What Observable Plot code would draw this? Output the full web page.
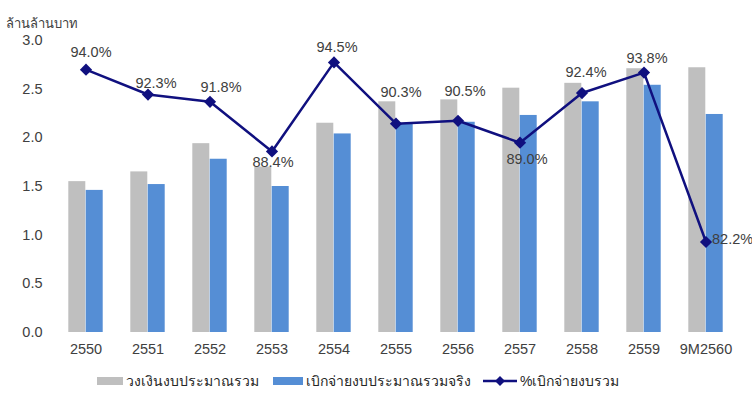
<!DOCTYPE html>
<html>
<head>
<meta charset="utf-8">
<script src="https://cdn.jsdelivr.net/npm/d3@7"></script>
<script src="https://cdn.jsdelivr.net/npm/@observablehq/plot@0.6"></script>
<style>
  html, body { margin: 0; padding: 0; background: #fff; }
  #wrap { width: 752px; height: 394px; position: relative; overflow: hidden; font-family: "Liberation Sans", Arial, sans-serif; }
  #legend { position: absolute; left: 0; top: 362px; width: 752px; height: 32px; font-size: 14px; color: #262626; }
  .sw { position: absolute; }
  .lt { position: absolute; top: 10px; line-height: 18px; white-space: nowrap; }
</style>
</head>
<body>
<div id="wrap"><div id="chart"></div><div id="legend"></div></div>
<script>
const categories = ["2550","2551","2552","2553","2554","2555","2556","2557","2558","2559","9M2560"];
const budgetTotal = [1.55, 1.65, 1.94, 1.70, 2.15, 2.37, 2.39, 2.51, 2.56, 2.71, 2.72];
const actualSpend = [1.46, 1.52, 1.78, 1.50, 2.04, 2.14, 2.16, 2.23, 2.37, 2.54, 2.24];
const pctDisbursed = [94.0, 92.3, 91.8, 88.4, 94.5, 90.3, 90.5, 89.0, 92.4, 93.8, 82.2];
const yTicks = [0, 0.5, 1.0, 1.5, 2.0, 2.5, 3.0];
const pctAxisRange = [76, 96]; // hidden secondary axis (%)
const yUnit = "ล้านล้านบาท";
const seriesNames = ["วงเงินงบประมาณรวม", "เบิกจ่ายงบประมาณรวมจริง", "%เบิกจ่ายงบรวม"];

const colGray = "#BFBFBF", colBlue = "#558ED5", colLine = "#10107F", colText = "#404040";

const rows = categories.map((c, i) => ({
  cat: c,
  budget: budgetTotal[i],
  actual: actualSpend[i],
  pct: pctDisbursed[i],
  pctY: (pctDisbursed[i] - pctAxisRange[0]) / (pctAxisRange[1] - pctAxisRange[0]) * 3
}));

// label placement (dx, dy, anchor) per point
const labelPlacement = [
  [5, -17, "middle"], [8, -11, "middle"], [11, -14, "middle"], [1, 11, "middle"],
  [3, -15, "middle"], [5, -31, "middle"], [7, -29, "middle"], [7, 17, "middle"],
  [4, -21, "middle"], [3, -14, "middle"], [6, -3, "start"]
];

const labelMarks = rows.map((r, i) => Plot.text([r], {
  x: "cat", y: "pctY", text: d => d.pct.toFixed(1) + "%",
  dx: labelPlacement[i][0], dy: labelPlacement[i][1], textAnchor: labelPlacement[i][2],
  fill: colText, fontSize: 14.5
}));

const chart = Plot.plot({
  width: 752, height: 362,
  marginLeft: 53, marginRight: 14, marginTop: 40, marginBottom: 30,
  style: { fontFamily: "'Liberation Sans', Arial, sans-serif", fontSize: "14.5px", color: colText, background: "#fff", overflow: "visible" },
  x: { domain: categories, paddingInner: 0.72, paddingOuter: 0.36, label: null, tickSize: 0, tickPadding: 11 },
  y: { domain: [0, 3], ticks: yTicks, tickFormat: d => d.toFixed(1), label: null, tickSize: 0, tickPadding: 11 },
  marks: [
    Plot.barY(rows, { x: "cat", y: "budget", fill: colGray, dx: -8.7 }),
    Plot.barY(rows, { x: "cat", y: "actual", fill: colBlue, dx: 8.7 }),
    Plot.line(rows, { x: "cat", y: "pctY", stroke: colLine, strokeWidth: 2.5 }),
    Plot.dot(rows, { x: "cat", y: "pctY", symbol: "diamond2", r: 5.5, fill: colLine, stroke: "none" }),
    ...labelMarks,
    Plot.text([yUnit], { frameAnchor: "top-left", text: d => d, dx: -48, dy: -22, textAnchor: "start", fontSize: 13, fill: colText })
  ]
});
document.getElementById("chart").appendChild(chart);

// legend
const lg = document.getElementById("legend");
const items = [
  { sw: `<div class="sw" style="left:97px;top:15px;width:26px;height:8px;background:${colGray}"></div>`, x: 126 },
  { sw: `<div class="sw" style="left:273px;top:15px;width:30px;height:8px;background:${colBlue}"></div>`, x: 306 },
  { sw: `<svg class="sw" style="left:483px;top:12px" width="34" height="14"><line x1="0" y1="7" x2="34" y2="7" stroke="${colLine}" stroke-width="2.5"/><path d="M17 2 L22 7 L17 12 L12 7 Z" fill="${colLine}"/></svg>`, x: 520 }
];
items.forEach((it, i) => {
  lg.insertAdjacentHTML("beforeend", it.sw + `<div class="lt" style="left:${it.x}px">${seriesNames[i]}</div>`);
});
</script>
</body>
</html>
